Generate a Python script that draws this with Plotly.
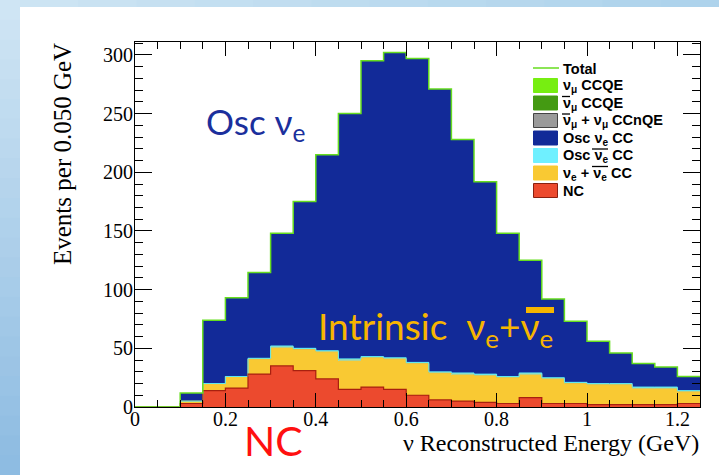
import plotly.graph_objects as go

# ---------------- data ----------------
bin_low = [0.00, 0.05, 0.10, 0.15, 0.20, 0.25, 0.30, 0.35, 0.40, 0.45,
           0.50, 0.55, 0.60, 0.65, 0.70, 0.75, 0.80, 0.85, 0.90, 0.95,
           1.00, 1.05, 1.10, 1.15, 1.20]
bin_width = 0.05
x_max = 1.25

nc         = [0, 0, 3, 14, 16, 28, 35, 31, 24, 15, 17, 15, 10, 6, 5, 4, 3, 8, 3, 3, 2, 2, 2, 2, 3]
intrinsic  = [0, 0, 2, 6, 10, 13, 16, 18, 23, 25, 25, 26, 27, 23, 23, 23, 22, 20, 21, 17, 17, 17, 14, 14, 10]
osc_nuebar = [0, 0, 0, 0, 0, 0.5, 1, 1, 1, 1, 1, 1, 1, 1, 1, 1, 1, 1, 1, 1, 1, 1, 1, 1, 1]
osc_nue    = [0, 0, 7, 54, 67, 73, 96, 125, 167, 209, 252, 260, 259, 241, 199, 164, 122, 96, 67, 52, 36, 26, 20, 17, 12]

y_tick_vals = [0, 50, 100, 150, 200, 250, 300]
x_tick_vals = [0, 0.2, 0.4, 0.6, 0.8, 1.0, 1.2]
x_tick_text = ["0", "0.2", "0.4", "0.6", "0.8", "1", "1.2"]

legend_labels = ["<b>Total</b>",
                 "<b>ν<sub>μ</sub> CCQE</b>",
                 "<b>ν<sub>μ</sub> CCQE</b>",
                 "<b>ν<sub>μ</sub> + ν<sub>μ</sub> CCnQE</b>",
                 "<b>Osc ν<sub>e</sub> CC</b>",
                 "<b>Osc ν<sub>e</sub> CC</b>",
                 "<b>ν<sub>e</sub> + ν<sub>e</sub> CC</b>",
                 "<b>NC</b>"]
# overbars (anti-neutrino) in the legend: (row, x-left px, x-right px)
legend_bars = [(2, 562, 570), (3, 562, 570), (5, 592, 608), (6, 592, 608)]

# ---------------- styles ----------------
C_RED = "#ec4a2e"
C_RED_LINE = "#a8200f"
C_YEL = "#f9c933"
C_CYAN = "#6ff0ff"
C_BLUE = "#122a98"
C_GREEN = "#66dd1e"
legend_colors = [None, "#77ee11", "#449a12", "#9a9a9a", C_BLUE, C_CYAN, C_YEL, C_RED]
legend_borders = [None, "#77ee11", "#449a12", "#444444", C_BLUE, C_CYAN, C_YEL, "#8a2010"]

W, H = 719, 475
L, R, T, B = 135, 19, 42, 68
PW, PH = W - L - R, H - T - B


def px(xp):
    return (xp - L) / PW


def py(yp):
    return (H - B - yp) / PH


# cumulative stack levels for the outlines
cum_red = [a for a in nc]
cum_yel = [a + b for a, b in zip(cum_red, intrinsic)]
cum_cyan = [a + b for a, b in zip(cum_yel, osc_nuebar)]
total = [a + b for a, b in zip(cum_cyan, osc_nue)]
edges = bin_low + [x_max]

fig = go.Figure()
for vals, col in [(nc, C_RED), (intrinsic, C_YEL), (osc_nuebar, C_CYAN), (osc_nue, C_BLUE)]:
    fig.add_trace(go.Bar(x=bin_low, y=vals, width=bin_width, offset=0,
                         marker=dict(color=col, line=dict(width=0)),
                         showlegend=False, hoverinfo="skip"))

for cum, col, w in [(cum_yel, "#e8c040", 1), (cum_cyan, "#5fe8f0", 1),
                    (cum_red, C_RED_LINE, 1.2), (total, C_GREEN, 1.5)]:
    fig.add_trace(go.Scatter(x=edges, y=cum + [cum[-1]], mode="lines",
                             line=dict(shape="hv", color=col, width=w),
                             showlegend=False, hoverinfo="skip"))

shapes = []
# slide background: white panel with blue gradient margins
shapes.append(dict(type="rect", xref="paper", yref="paper", x0=px(20), x1=px(W + 5),
                   y0=py(H + 5), y1=py(7), fillcolor="white", line=dict(width=0), layer="below"))
n = 24
for i in range(n):
    t = i / (n - 1)
    r = int(0xcf + (0x8e - 0xcf) * t)
    g = int(0xe5 + (0xbc - 0xe5) * t)
    b = int(0xf4 + (0xe2 - 0xf4) * t)
    shapes.append(dict(type="rect", xref="paper", yref="paper", x0=px(-2), x1=px(20),
                       y0=py(H * (i + 1) / n + 1), y1=py(H * i / n),
                       fillcolor=f"rgb({r},{g},{b})", line=dict(width=0), layer="below"))
m = 12
for i in range(m):
    t = i / (m - 1)
    r = int(0xcc + (0xae - 0xcc) * t)
    g = int(0xe4 + (0xd3 - 0xe4) * t)
    b = int(0xf3 + (0xec - 0xf3) * t)
    shapes.append(dict(type="rect", xref="paper", yref="paper", x0=px(20 + (W - 20) * i / m),
                       x1=px(20 + (W - 20) * (i + 1) / m + 1), y0=py(7), y1=py(-2),
                       fillcolor=f"rgb({r},{g},{b})", line=dict(width=0), layer="below"))

# overbar of the big "Intrinsic" label
shapes.append(dict(type="rect", xref="paper", yref="paper", x0=px(526), x1=px(554),
                   y0=py(313), y1=py(307), fillcolor="#f7b500", line=dict(width=0)))

annotations = []
# legend (manual)
row_y = [68, 85.5, 103, 120.5, 138, 155.5, 173, 190.5]
for i, lab in enumerate(legend_labels):
    yc = row_y[i]
    if i == 0:
        shapes.append(dict(type="line", xref="paper", yref="paper", x0=px(533), x1=px(559),
                           y0=py(yc), y1=py(yc), line=dict(color=C_GREEN, width=1.5)))
    else:
        shapes.append(dict(type="rect", xref="paper", yref="paper", x0=px(533.5), x1=px(557.5),
                           y0=py(yc + 7), y1=py(yc - 7), fillcolor=legend_colors[i],
                           line=dict(color=legend_borders[i], width=1)))
    annotations.append(dict(text=lab, xref="paper", yref="paper", x=px(561), y=py(yc + 0.5),
                            xanchor="left", yanchor="middle", showarrow=False,
                            font=dict(family="Liberation Sans, Arial", size=14.5, color="black")))
for row, x0, x1 in legend_bars:
    yb = row_y[row] - 6.5
    shapes.append(dict(type="line", xref="paper", yref="paper", x0=px(x0), x1=px(x1),
                       y0=py(yb), y1=py(yb), line=dict(color="black", width=1.3)))

# axis titles
annotations.append(dict(text="Events per 0.050 GeV", xref="paper", yref="paper",
                        x=px(63), y=py(41), xanchor="center", yanchor="top", textangle=-90,
                        showarrow=False,
                        font=dict(family="Liberation Serif, Times New Roman", size=25, color="black")))
annotations.append(dict(text="ν Reconstructed Energy (GeV)", xref="paper", yref="paper",
                        x=px(701), y=py(443), xanchor="right", yanchor="middle",
                        showarrow=False,
                        font=dict(family="Liberation Serif, Times New Roman", size=24, color="black")))

# big slide labels
annotations.append(dict(text="Osc ν<sub>e</sub>", xref="paper", yref="paper",
                        x=px(204), y=py(124), xanchor="left", yanchor="middle", showarrow=False,
                        font=dict(family="Lato", size=35, color="#1b2f9c")))
annotations.append(dict(text="Intrinsic\u00a0\u00a0ν<sub>e</sub>+ν<sub>e</sub>",
                        xref="paper", yref="paper",
                        x=px(316), y=py(328), xanchor="left", yanchor="middle", showarrow=False,
                        font=dict(family="Lato", size=37, color="#f7b500")))
annotations.append(dict(text="NC", xref="paper", yref="paper",
                        x=px(242), y=py(440), xanchor="left", yanchor="middle", showarrow=False,
                        font=dict(family="Lato", size=41, color="#ff1010")))

axis_common = dict(showline=True, linecolor="black", linewidth=1, mirror="allticks",
                   ticks="inside", tickcolor="black", tickwidth=1, showgrid=False,
                   zeroline=False,
                   tickfont=dict(family="Liberation Serif, Times New Roman", size=20, color="black"))

fig.update_layout(
    width=W, height=H,
    margin=dict(l=L, r=R, t=T, b=B),
    paper_bgcolor="white", plot_bgcolor="white",
    barmode="stack", bargap=0,
    showlegend=False,
    shapes=shapes, annotations=annotations,
    xaxis=dict(range=[0, x_max], tickvals=x_tick_vals, ticktext=x_tick_text, ticklen=14,
               ticklabelstandoff=-6,
               minor=dict(dtick=0.05, tick0=0, ticklen=7, ticks="inside", tickcolor="black",
                          showgrid=False),
               **axis_common),
    yaxis=dict(range=[0, 311], tickvals=y_tick_vals, ticklen=17, ticklabelstandoff=-3,
               minor=dict(dtick=10, tick0=0, ticklen=8, ticks="inside", tickcolor="black",
                          showgrid=False),
               **axis_common),
)

fig.write_html("out.html", config={"displayModeBar": False},
               post_script="document.body.style.margin='0px';")
